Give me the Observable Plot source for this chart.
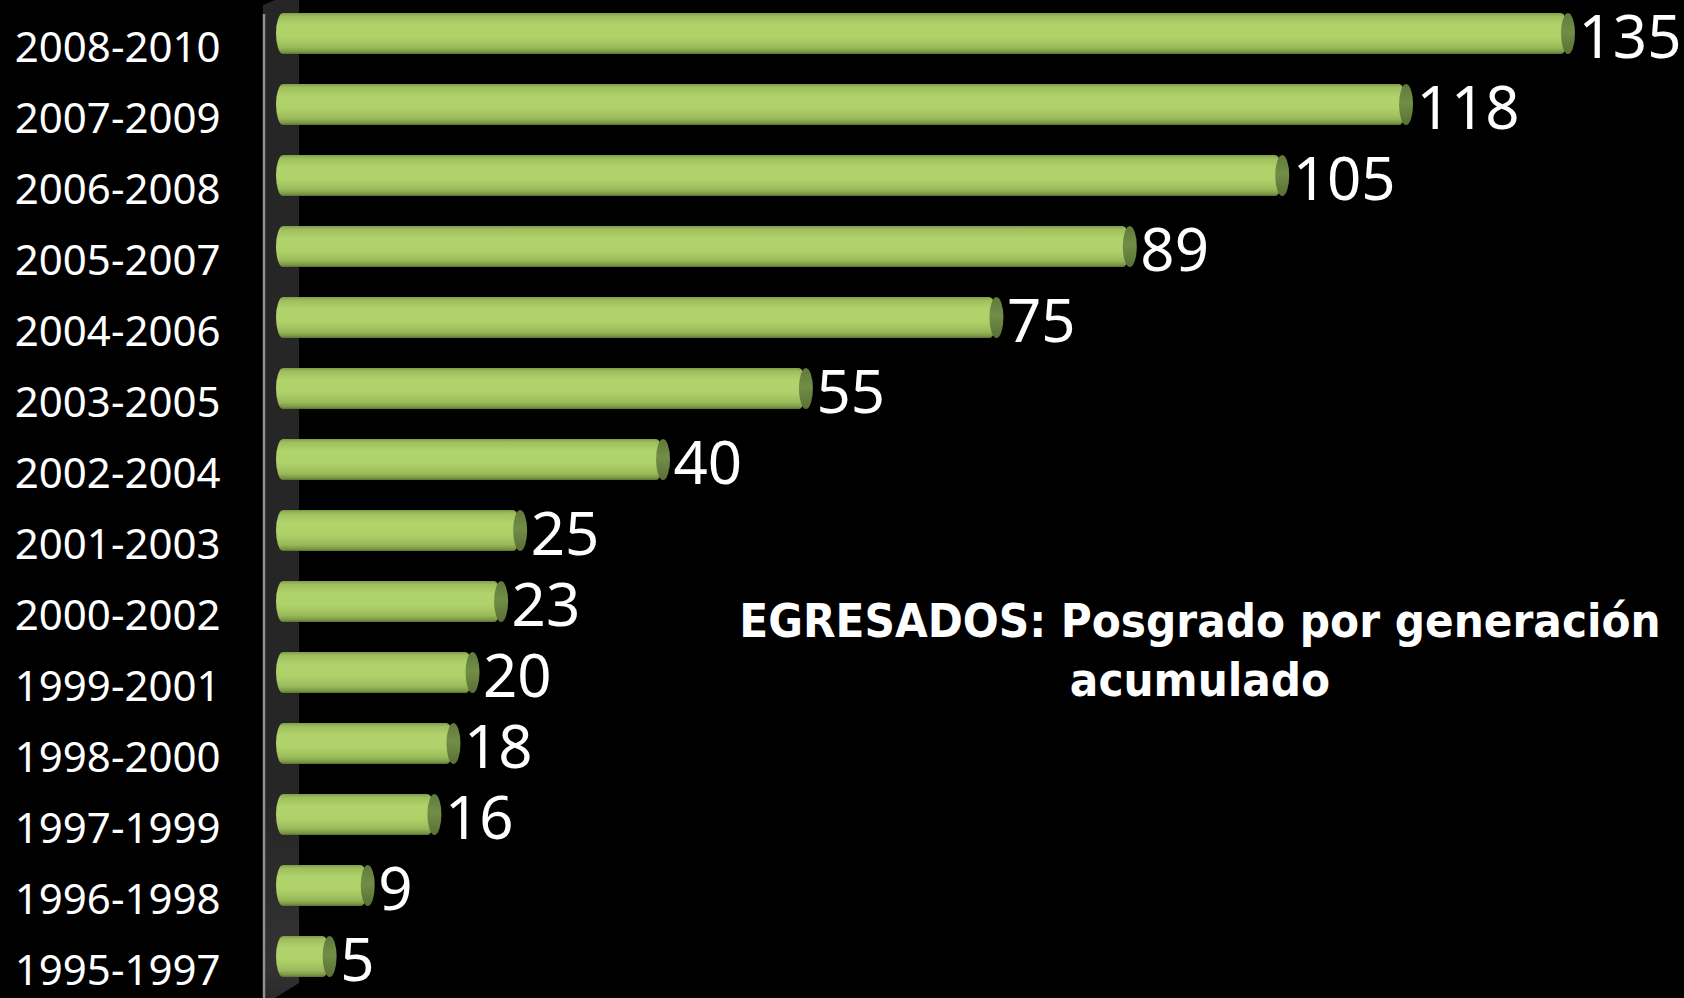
<!DOCTYPE html>
<html>
<head>
<meta charset="utf-8">
<script src="https://cdn.jsdelivr.net/npm/d3@7"></script>
<script src="https://cdn.jsdelivr.net/npm/@observablehq/plot@0.6"></script>
<style>
  html, body { margin: 0; padding: 0; background: #000; }
  #wrap { position: relative; width: 1684px; height: 998px; overflow: hidden; background: #000; }
  #title {
    position: absolute; left: 500px; top: 591px; width: 1400px;
    text-align: center; color: #fff; white-space: nowrap;
    font-family: "DejaVu Sans", sans-serif; font-weight: bold;
    font-size: 47px; line-height: 59px;
    transform: scaleX(0.9); transform-origin: 700px 0;
  }
</style>
</head>
<body>
<div id="wrap">
  <div id="chart"></div>
  <div id="title">EGRESADOS: Posgrado por generación<br>acumulado</div>
</div>
<script>
const categories = ["2008-2010","2007-2009","2006-2008","2005-2007","2004-2006","2003-2005","2002-2004","2001-2003","2000-2002","1999-2001","1998-2000","1997-1999","1996-1998","1995-1997"];
const values = [135, 118, 105, 89, 75, 55, 40, 25, 23, 20, 18, 16, 9, 5];
const data = categories.map((c, i) => ({gen: c, value: values[i]}));

// decorative 3D wall + gradient definitions
function wall(index, scales, channels, dimensions) {
  const g = d3.create("svg:g");
  const defs = g.append("defs");
  const body = defs.append("linearGradient").attr("id", "cylBody")
    .attr("x1", 0).attr("y1", 0).attr("x2", 0).attr("y2", 1);
  [[0, "#7f9c48"], [0.08, "#9ebe5e"], [0.3, "#b1d36b"], [0.6, "#afd169"], [0.84, "#9aba5a"], [0.95, "#7b9744"], [1, "#5b7132"]]
    .forEach(([o, c]) => body.append("stop").attr("offset", o).attr("stop-color", c));
  const cap = defs.append("linearGradient").attr("id", "cylCap")
    .attr("x1", 0).attr("y1", 0).attr("x2", 0).attr("y2", 1);
  [[0, "#62793a"], [0.45, "#718e47"], [1, "#5a6f35"]]
    .forEach(([o, c]) => cap.append("stop").attr("offset", o).attr("stop-color", c));
  const wg = defs.append("linearGradient").attr("id", "wallGrad")
    .attr("x1", 0).attr("y1", 0).attr("x2", 0).attr("y2", 1);
  [[0, "#262626"], [0.8, "#262626"], [0.97, "#333333"], [1, "#2a2a2a"]]
    .forEach(([o, c]) => wg.append("stop").attr("offset", o).attr("stop-color", c));
  const x0 = scales.x(0);
  const H = dimensions.height;
  const left = x0 - 19, right = x0 + 17;
  const bottom = H - dimensions.marginBottom;
  g.append("path")
    .attr("d", `M${left},5 L${left + 12},0 L${right},0 L${right},${bottom} L${left + 12},${H} L${left},${H} Z`)
    .attr("fill", "url(#wallGrad)");
  g.append("line")
    .attr("x1", left + 1).attr("x2", left + 1).attr("y1", 14).attr("y2", H)
    .attr("stroke", "#8f8f8f").attr("stroke-width", 2.5);
  return g.node();
}

const plot = Plot.plot({
  width: 1684,
  height: 998,
  marginLeft: 282,
  marginRight: 116,
  marginTop: 7,
  marginBottom: 15,
  style: {background: "#000", color: "#fff", overflow: "visible"},
  x: {domain: [0, 135], axis: null},
  y: {domain: categories, paddingInner: 0.42, paddingOuter: 0, axis: null},
  marks: [
    wall,
    Plot.axisY({
      tickSize: 0, tickPadding: 62, fontSize: 42, fill: "#fff", dy: 15,
      fontFamily: "Noto Sans", label: null
    }),
    Plot.barX(data, {
      y: "gen", x1: 0, x2: "value",
      insetLeft: -6, rx: 7, ry: 21,
      fill: "url(#cylBody)"
    }),
    Plot.barX(data, {
      y: "gen", x1: "value", x2: "value",
      insetLeft: -7, insetRight: -7, rx: 7, ry: 21,
      fill: "url(#cylCap)"
    }),
    Plot.text(data, {
      y: "gen", x: "value", text: d => String(d.value),
      textAnchor: "start", dx: 10, dy: 5,
      fontSize: 60, fill: "#fff", fontFamily: "Noto Sans"
    })
  ]
});
document.getElementById("chart").appendChild(plot);
</script>
</body>
</html>
